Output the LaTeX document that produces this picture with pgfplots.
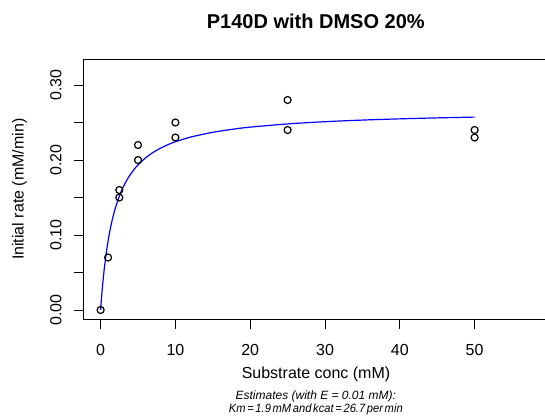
\documentclass[border=0pt]{standalone}
\usepackage{fontspec}
\setmainfont{Liberation Sans}
\usepackage{graphicx}
\usepackage{pgfplots}
\pgfplotsset{compat=1.18}
\begin{document}
\begin{tikzpicture}[x=1bp,y=1bp]
\useasboundingbox (0,0) rectangle (545,418);
\begin{axis}[
  at={(83.4bp,98.7bp)}, anchor=south west,
  width=464.5bp, height=260bp, scale only axis,
  xmin=-2.3, xmax=59.8, ymin=-0.0124, ymax=0.3343,
  axis line style={black, line width=1bp},
  tick align=outside, major tick length=9.6bp,
  tick style={black, line width=1bp},
  tick pos=left,
  xtick={0,10,20,30,40,50}, xticklabels={0,10,20,30,40,50},
  ytick={0,0.05,0.10,0.15,0.20,0.25,0.30},
  yticklabels={0.00,,0.10,,0.20,,0.30},
  ticklabel style={font=\fontsize{16bp}{19.2bp}\selectfont},
  xticklabel style={anchor=base},
  xticklabel shift=26.5bp,
  yticklabel style={anchor=base, rotate=90},
  yticklabel shift=12.5bp,
]
\addplot[blue, line width=1.2bp, smooth] coordinates {
(0,0) (0.1,0.01335) (0.2,0.02543) (0.35,0.04153) (0.5,0.05563) (0.75,0.07557)
(1,0.09207) (1.25,0.10595) (1.5,0.11779) (1.75,0.12801) (2,0.13692) (2.5,0.15170)
(3,0.16347) (3.5,0.17306) (4,0.18102) (4.5,0.18773) (5,0.19348) (6,0.20278)
(7,0.21000) (8,0.21576) (9,0.22046) (10,0.22437) (12,0.23050) (15,0.23698)
(18,0.24151) (20,0.24384) (25,0.24814) (30,0.25110) (35,0.25325) (40,0.25489)
(45,0.25618) (50,0.25723)
};
\addplot[only marks, mark=o, mark size=3.5bp, mark options={black, line width=1.2bp}] coordinates {
(0,0) (1,0.07) (2.5,0.16) (2.5,0.15) (5,0.22) (5,0.20) (10,0.25) (10,0.23)
(25,0.28) (25,0.24) (50,0.24) (50,0.23)
};
\end{axis}
\node[anchor=base, inner sep=0pt, font=\fontsize{20bp}{24bp}\selectfont\bfseries] at (315.8,389.2) {P140D with DMSO 20\%};
\node[anchor=base, inner sep=0pt, font=\fontsize{16bp}{19.2bp}\selectfont] at (316,40) {Substrate conc (mM)};
\node[anchor=base, inner sep=0pt, rotate=90, font=\fontsize{16bp}{19.2bp}\selectfont] at (23.5,228.7) {Initial rate (mM/min)};
\node[anchor=base, inner sep=0pt, font=\fontsize{12bp}{14.4bp}\selectfont\itshape] at (315.8,18.5) {Estimates (with E = 0.01 mM):};
\node[anchor=base, inner sep=0pt, font=\fontsize{12bp}{14.4bp}\selectfont\itshape] at (315.8,6) {\scalebox{0.93}[1]{\spaceskip=1.8bp\relax Km = 1.9 mM and kcat = 26.7 per min}};
\end{tikzpicture}
\end{document}
